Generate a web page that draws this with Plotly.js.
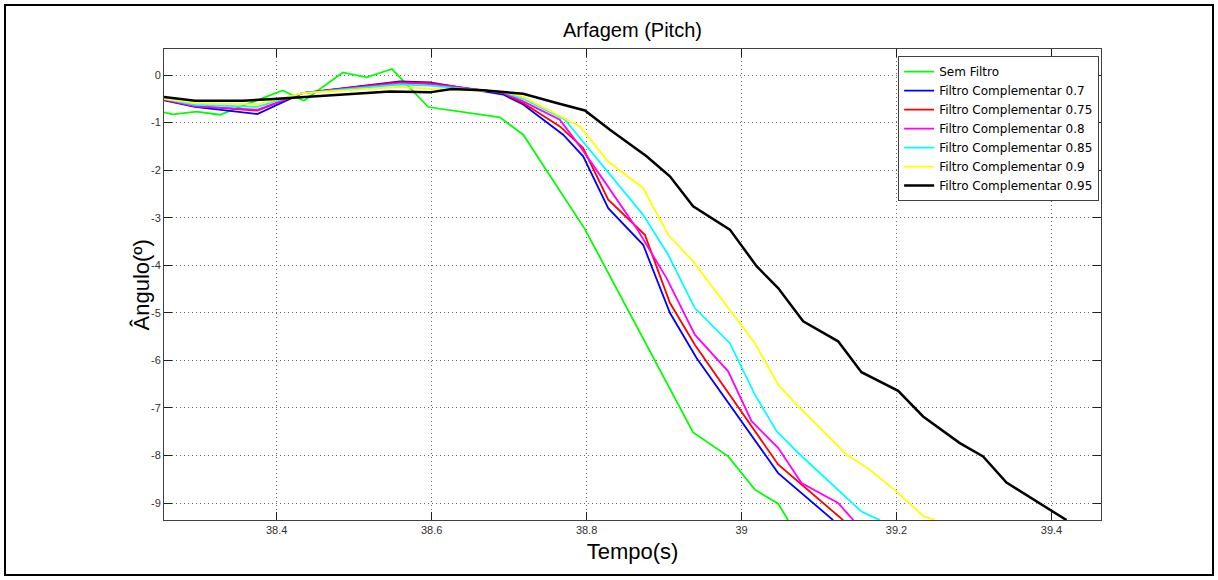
<!DOCTYPE html>
<html>
<head>
<meta charset="utf-8">
<script src="https://cdn.plot.ly/plotly-3.0.1.min.js"></script>
<style>
  html, body { margin: 0; padding: 0; background: #fff; }
  #wrap { position: relative; width: 1218px; height: 580px; }
  #chart { width: 1218px; height: 580px; }
  #frame { position: absolute; left: 4px; top: 4px; width: 1206px; height: 568px;
           border: 2px solid #000; pointer-events: none; }
</style>
</head>
<body>
<div id="wrap"><div id="chart"></div><div id="frame"></div></div>
<script>
// ---- data ----
const seriesNames = ["Sem Filtro", "Filtro Complementar 0.7", "Filtro Complementar 0.75",
  "Filtro Complementar 0.8", "Filtro Complementar 0.85", "Filtro Complementar 0.9",
  "Filtro Complementar 0.95"];

const semFiltroX = [38.2546, 38.2658, 38.2968, 38.3268, 38.4077, 38.4352, 38.4852, 38.5161, 38.5488,
  38.5956, 38.6881, 38.7182, 38.7978, 38.9375, 38.9827, 39.0172, 39.0472, 39.0601];
const semFiltroY = [-0.786, -0.828, -0.772, -0.835, -0.324, -0.540, 0.055, -0.050, 0.126,
  -0.673, -0.891, -1.255, -3.24, -7.515, -8.019, -8.719, -9.014, -9.36];

const f070X = [38.2546, 38.2946, 38.375, 38.4331, 38.5591, 38.5978, 38.6924, 38.7182, 38.7698,
  38.7956, 38.8279, 38.873, 38.9075, 38.9419, 39.0472, 39.1182];
const f070Y = [-0.53, -0.67, -0.82, -0.38, -0.135, -0.155, -0.41, -0.62, -1.255,
  -1.71, -2.80, -3.57, -5.00, -5.95, -8.37, -9.36];

const f075X = [38.2546, 38.2946, 38.375, 38.4331, 38.5591, 38.5978, 38.6924, 38.7182, 38.7655,
  38.7956, 38.8279, 38.8752, 38.9075, 38.9397, 39.0472, 39.1311];
const f075Y = [-0.52, -0.65, -0.75, -0.38, -0.15, -0.17, -0.38, -0.59, -1.08,
  -1.535, -2.62, -3.36, -4.79, -5.67, -8.19, -9.36];

const f080X = [38.2546, 38.2946, 38.375, 38.4331, 38.5591, 38.5978, 38.6924, 38.7182, 38.7655,
  38.7914, 38.8214, 38.8645, 38.9032, 38.9397, 38.9827, 39.0129, 39.0472, 39.0774, 39.1246, 39.1443];
const f080Y = [-0.51, -0.66, -0.73, -0.38, -0.17, -0.19, -0.37, -0.555, -0.94,
  -1.50, -2.20, -3.22, -4.27, -5.46, -6.23, -7.28, -7.84, -8.58, -9.00, -9.36];

const f085X = [38.2546, 38.2946, 38.375, 38.4331, 38.5591, 38.5978, 38.6924, 38.7182, 38.772,
  38.873, 38.9053, 38.9397, 38.9849, 39.0172, 39.0452, 39.0752, 39.1548, 39.1785];
const f085Y = [-0.50, -0.63, -0.67, -0.38, -0.20, -0.225, -0.36, -0.50, -0.94,
  -2.94, -3.78, -4.90, -5.64, -6.72, -7.49, -7.98, -9.18, -9.36];

const f090X = [38.2546, 38.2946, 38.375, 38.4331, 38.5591, 38.5978, 38.6924, 38.7182, 38.7914,
  38.8279, 38.873, 38.9053, 38.9375, 39.0172, 39.0472, 39.0752, 39.1354, 39.1656, 39.2, 39.2343, 39.2494];
const f090Y = [-0.50, -0.59, -0.62, -0.38, -0.25, -0.29, -0.35, -0.46, -1.08,
  -1.82, -2.38, -3.36, -3.92, -5.64, -6.51, -7.00, -7.98, -8.30, -8.76, -9.27, -9.36];

const f095X = [38.2546, 38.2946, 38.3569, 38.3914, 38.5462, 38.5978, 38.6258, 38.6666, 38.6924,
  38.7182, 38.7613, 38.7978, 38.8301, 38.8774, 38.9075, 38.9375, 38.9849, 39.0194, 39.0472,
  39.0795, 39.1246, 39.1548, 39.2021, 39.2343, 39.2817, 39.3117, 39.3419, 39.4194];
const f095Y = [-0.463, -0.54, -0.54, -0.51, -0.345, -0.365, -0.295, -0.32, -0.357,
  -0.393, -0.589, -0.745, -1.15, -1.71, -2.13, -2.76, -3.25, -4.02, -4.48,
  -5.18, -5.60, -6.25, -6.64, -7.18, -7.74, -8.02, -8.57, -9.36];

const seriesColors = ["#00ff00", "#0000ff", "#ff0000", "#ff00ff", "#00ffff", "#ffff00", "#000000"];

const xTickVals = [38.4, 38.6, 38.8, 39, 39.2, 39.4];
const xTickText = ["38.4", "38.6", "38.8", "39", "39.2", "39.4"];
const yTickVals = [0, -1, -2, -3, -4, -5, -6, -7, -8, -9];
const yTickText = ["0", "-1", "-2", "-3", "-4", "-5", "-6", "-7", "-8", "-9"];

// ---- build traces ----
const xs = [semFiltroX, f070X, f075X, f080X, f085X, f090X, f095X];
const ys = [semFiltroY, f070Y, f075Y, f080Y, f085Y, f090Y, f095Y];
const traces = seriesNames.map((name, i) => ({
  type: "scatter", mode: "lines", name: name,
  x: xs[i], y: ys[i],
  line: { color: seriesColors[i], width: i === 6 ? 2.5 : 1.8 }
}));

const FONT = "Liberation Sans, Arial, Helvetica, sans-serif";
const axisCommon = {
  showline: true, linecolor: "#404040", linewidth: 1, mirror: "ticks",
  ticks: "inside", ticklen: 8, tickcolor: "#202020", tickwidth: 1,
  showgrid: true, gridcolor: "#666666", gridwidth: 1, griddash: "1px,3px",
  zeroline: false, tickfont: { family: FONT, size: 11, color: "#303030" },
  automargin: false, fixedrange: true
};

const layout = {
  width: 1218, height: 580,
  paper_bgcolor: "#ffffff", plot_bgcolor: "#ffffff",
  margin: { l: 164, r: 117, t: 49, b: 60 },
  title: { text: "Arfagem (Pitch)", x: 0.5193, xanchor: "center", xref: "container",
           y: 0.948, yanchor: "middle", yref: "container",
           font: { family: FONT, size: 20, color: "#000" } },
  xaxis: Object.assign({}, axisCommon, {
    range: [38.2546, 39.4639], tickvals: xTickVals, ticktext: xTickText,
    title: { text: "Tempo(s)", font: { family: FONT, size: 22, color: "#000" }, standoff: 8 }
  }),
  yaxis: Object.assign({}, axisCommon, {
    range: [-9.357, 0.547], tickvals: yTickVals, ticktext: yTickText,
    title: { text: "" }
  }),
  annotations: [{
    text: "Ângulo(º)", textangle: -90, xref: "paper", yref: "paper",
    x: -0.0235, y: 0.5, xanchor: "center", yanchor: "middle", showarrow: false,
    font: { family: FONT, size: 22, color: "#000" }
  }],
  showlegend: true,
  legend: {
    x: 0.998, xanchor: "right", y: 0.985, yanchor: "top",
    bgcolor: "#ffffff", bordercolor: "#404040", borderwidth: 1,
    font: { family: "DejaVu Sans, sans-serif", size: 12, color: "#000" }, tracegroupgap: 0
  }
};

Plotly.newPlot("chart", traces, layout, { staticPlot: true, displayModeBar: false });
</script>
</body>
</html>
